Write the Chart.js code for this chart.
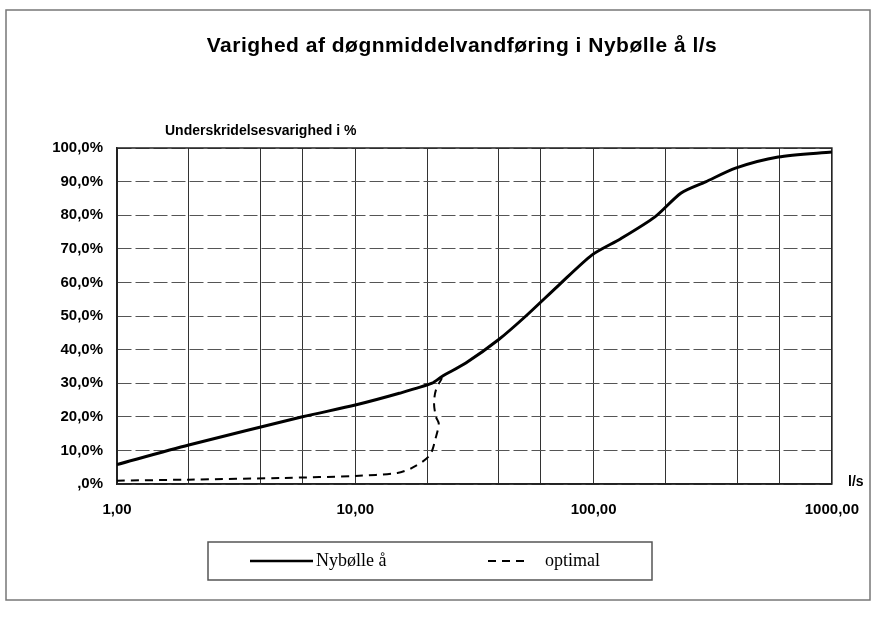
<!DOCTYPE html>
<html>
<head>
<meta charset="utf-8">
<script src="https://cdn.jsdelivr.net/npm/chart.js@4"></script>
<style>
html,body{margin:0;padding:0;background:#fff;}
#wrap{width:876px;height:630px;}
</style>
</head>
<body>
<div id="wrap"><canvas id="c" width="876" height="630"></canvas></div>
<script>
// Data
const titleText = "Varighed af døgnmiddelvandføring i Nybølle å l/s";
const subtitleText = "Underskridelsesvarighed i %";
const unitText = "l/s";
const seriesNames = ["Nybølle å", "optimal"];

const nyX = [1, 2, 6, 10, 15.3, 21, 23.1, 29.1, 40, 52, 71.5, 98.6, 130, 181, 233, 295, 394, 595, 1000];
const nyY = [5.8, 11.6, 20, 23.5, 27, 30, 32, 36, 43, 50, 59.2, 68.2, 73, 79.5, 86.6, 89.9, 94, 97.3, 98.8];

const optX = [1, 2, 5, 10, 15, 17.3, 20.5, 21.8, 22.4, 21.8, 21.4, 21.8, 23.1];
const optY = [1, 1.3, 1.8, 2.4, 3.3, 4.8, 8.5, 14, 18, 20, 24, 28, 31.5];

const xGridValues = [1, 2, 4, 6, 10, 20, 40, 60, 100, 200, 400, 600, 1000];
const xTickLabels = {1: "1,00", 10: "10,00", 100: "100,00", 1000: "1000,00"};
const yTickValues = [0, 10, 20, 30, 40, 50, 60, 70, 80, 90, 100];
const yTickLabels = [",0%", "10,0%", "20,0%", "30,0%", "40,0%", "50,0%", "60,0%", "70,0%", "80,0%", "90,0%", "100,0%"];

const toPts = (xs, ys) => xs.map((x, i) => ({x: x, y: ys[i]}));

const decorPlugin = {
  id: 'decor',
  afterDraw(chart) {
    const ctx = chart.ctx;
    ctx.save();
    // outer frame
    ctx.strokeStyle = '#777';
    ctx.lineWidth = 1.5;
    ctx.strokeRect(6, 10, 864, 590);
    // title
    ctx.fillStyle = '#000';
    ctx.textAlign = 'center';
    ctx.textBaseline = 'middle';
    ctx.font = 'bold 21px "Liberation Sans", Arial, sans-serif';
    try { ctx.letterSpacing = '0.5px'; } catch (e) {}
    ctx.fillText(titleText, 462, 46);
    try { ctx.letterSpacing = '0px'; } catch (e) {}
    // subtitle
    ctx.textAlign = 'left';
    ctx.font = 'bold 14px "Liberation Sans", Arial, sans-serif';
    ctx.fillText(subtitleText, 165, 131);
    // unit
    ctx.font = 'bold 14px "Liberation Sans", Arial, sans-serif';
    ctx.fillText(unitText, 848, 482);
    // legend box
    const lx = 208, ly = 542, lw = 444, lh = 38;
    ctx.strokeStyle = '#555';
    ctx.lineWidth = 1.5;
    ctx.strokeRect(lx, ly, lw, lh);
    const cy = ly + lh / 2;
    ctx.strokeStyle = '#000';
    ctx.lineWidth = 2.5;
    ctx.setLineDash([]);
    ctx.beginPath(); ctx.moveTo(250, cy); ctx.lineTo(313, cy); ctx.stroke();
    ctx.lineWidth = 2;
    ctx.setLineDash([8, 6]);
    ctx.beginPath(); ctx.moveTo(488, cy); ctx.lineTo(530, cy); ctx.stroke();
    ctx.setLineDash([]);
    ctx.font = '18px "Liberation Serif", "Times New Roman", serif';
    ctx.fillStyle = '#000';
    ctx.fillText(seriesNames[0], 316, cy);
    ctx.fillText(seriesNames[1], 545, cy);
    ctx.restore();
  }
};

new Chart(document.getElementById('c'), {
  type: 'scatter',
  data: {
    datasets: [
      {
        label: seriesNames[0],
        data: toPts(nyX, nyY),
        showLine: true,
        borderColor: '#000',
        borderWidth: 3,
        pointRadius: 0,
        tension: 0.25,
        fill: false
      },
      {
        label: seriesNames[1],
        data: toPts(optX, optY),
        showLine: true,
        borderColor: '#000',
        borderWidth: 2,
        borderDash: [8, 6],
        pointRadius: 0,
        tension: 0.3,
        fill: false
      }
    ]
  },
  options: {
    responsive: false,
    animation: false,
    layout: {padding: {top: 148, right: 41, bottom: 0, left: 0}},
    plugins: {legend: {display: false}, title: {display: false}, tooltip: {enabled: false}},
    scales: {
      x: {
        type: 'logarithmic',
        min: 1,
        max: 1000,
        afterBuildTicks(scale) { scale.ticks = xGridValues.map(v => ({value: v})); },
        afterFit(scale) { scale.height = 146; },
        ticks: {
          autoSkip: false,
          maxRotation: 0,
          padding: 17,
          color: '#000',
          font: {family: '"Liberation Sans", Arial, sans-serif', size: 15, weight: 'bold'},
          callback(v) { return xTickLabels[v] || ''; }
        },
        grid: {color: '#333', lineWidth: 1, drawTicks: false},
        border: {display: true, color: '#222', width: 1.5}
      },
      y: {
        min: 0,
        max: 100,
        afterBuildTicks(scale) { scale.ticks = yTickValues.map(v => ({value: v})); },
        afterFit(scale) { scale.width = 117; },
        ticks: {
          padding: 14,
          color: '#000',
          font: {family: '"Liberation Sans", Arial, sans-serif', size: 15, weight: 'bold'},
          callback(v) { const i = yTickValues.indexOf(v); return i >= 0 ? yTickLabels[i] : ''; }
        },
        grid: {color: '#555', lineWidth: 1, drawTicks: false},
        border: {display: true, color: '#222', width: 1.5, dash: [14, 4]}
      }
    }
  },
  plugins: [decorPlugin, {
    id: 'frame',
    beforeDatasetsDraw(chart) {
      const ca = chart.chartArea, ctx = chart.ctx;
      ctx.save();
      ctx.strokeStyle = '#222';
      ctx.lineWidth = 1.5;
      ctx.strokeRect(ca.left, ca.top, ca.right - ca.left, ca.bottom - ca.top);
      ctx.restore();
    }
  }]
});
</script>
</body>
</html>
